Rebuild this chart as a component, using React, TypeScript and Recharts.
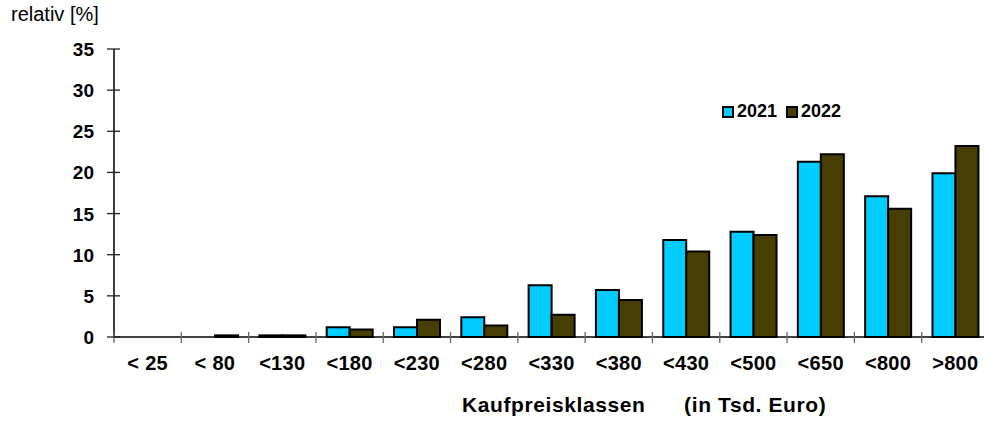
import { BarChart, Bar, XAxis, YAxis } from 'recharts'

const categories = ['< 25', '< 80', '<130', '<180', '<230', '<280', '<330', '<380', '<430', '<500', '<650', '<800', '>800']
const values2021 = [0, 0, 0.2, 1.2, 1.2, 2.4, 6.3, 5.7, 11.8, 12.8, 21.3, 17.1, 19.9]
const values2022 = [0, 0.2, 0.2, 0.9, 2.1, 1.4, 2.7, 4.5, 10.4, 12.4, 22.2, 15.6, 23.2]
const yTicks = [0, 5, 10, 15, 20, 25, 30, 35]
const seriesNames = ['2021', '2022']

const COLORS = ['#00CCFF', '#463E02']
const FONT = '"Liberation Sans", Arial, sans-serif'

const CHART_W = 989
const MARGIN = { top: 49, right: 0, left: 113, bottom: 54 }
const PLOT_LEFT = 114
const BAND = (CHART_W - PLOT_LEFT) / categories.length

const data = categories.map((c, i) => ({
  name: c,
  v2021: values2021[i],
  v2022: values2022[i],
}))

const YTick = (props: any) => {
  const { x, y, payload } = props
  return (
    <g>
      <line x1={x - 7} x2={x + 6} y1={y} y2={y} stroke="#222" strokeWidth={1.3} />
      <text x={x - 20} y={y} dy={7} textAnchor="end" fontFamily={FONT} fontWeight="bold" fontSize={19} fill="#000">
        {payload.value}
      </text>
    </g>
  )
}

const XTick = (props: any) => {
  const { x, y, payload, index } = props
  const last = index === categories.length - 1
  return (
    <g>
      <line x1={x - BAND / 2} x2={x - BAND / 2} y1={y - 5} y2={y + 6} stroke="#666" strokeWidth={1.3} />
      {last && <line x1={x + BAND / 2} x2={x + BAND / 2} y1={y - 5} y2={y + 6} stroke="#666" strokeWidth={1.3} />}
      <text x={x} y={y + 33} textAnchor="middle" fontFamily={FONT} fontWeight="bold" fontSize={20} letterSpacing={0.3} fill="#000">
        {payload.value}
      </text>
    </g>
  )
}

// legend drawn by hand so it does not shrink the plot area
const ChartLegend = () => (
  <div style={{ position: 'absolute', left: 722, top: 101, display: 'flex', alignItems: 'center', fontFamily: FONT, fontWeight: 'bold', fontSize: 18 }}>
    {seriesNames.map((n, i) => (
      <div key={n} style={{ display: 'flex', alignItems: 'center', marginRight: i === 0 ? 9 : 0 }}>
        <span style={{ width: 8, height: 8, background: COLORS[i], border: '2px solid #000', marginRight: 3 }} />
        <span>{n}</span>
      </div>
    ))}
  </div>
)

export default function App() {
  return (
    <div style={{ position: 'absolute', left: 0, top: 0, width: 984, height: 421, overflow: 'hidden', background: '#fff' }}>
      <div style={{ position: 'absolute', left: 11, top: 3, fontFamily: FONT, fontSize: 20, color: '#000' }}>
        relativ [%]
      </div>
      <BarChart width={CHART_W} height={421} data={data} margin={MARGIN} barCategoryGap="16%" barGap={0}>
        <XAxis
          dataKey="name"
          height={30}
          interval={0}
          tickSize={0}
          tickMargin={0}
          tick={<XTick />}
          axisLine={{ stroke: '#000', strokeWidth: 1.5 }}
          tickLine={false}
        />
        <YAxis
          width={1}
          domain={[0, 35]}
          ticks={yTicks}
          interval={0}
          tickSize={0}
          tickMargin={0}
          tick={<YTick />}
          axisLine={{ stroke: '#000', strokeWidth: 1.5 }}
          tickLine={false}
        />
        <Bar dataKey="v2021" name="2021" fill={COLORS[0]} stroke="#000" strokeWidth={2} isAnimationActive={false} />
        <Bar dataKey="v2022" name="2022" fill={COLORS[1]} stroke="#000" strokeWidth={2} isAnimationActive={false} />
      </BarChart>
      <ChartLegend />
      <div style={{ position: 'absolute', left: 462, top: 393, fontFamily: FONT, fontWeight: 'bold', fontSize: 21, letterSpacing: 0.6, whiteSpace: 'pre', color: '#000' }}>
        {'Kaufpreisklassen      (in Tsd. Euro)'}
      </div>
    </div>
  )
}
